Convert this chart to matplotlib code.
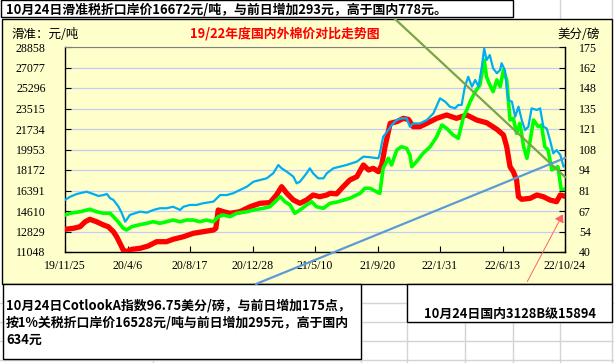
import matplotlib
matplotlib.use('Agg')
import matplotlib.pyplot as plt
from matplotlib.lines import Line2D
from matplotlib.patches import Rectangle, FancyArrowPatch
import numpy as np

plt.rcParams['font.family'] = ['Noto Sans CJK SC', 'DejaVu Sans']

# ---------------- data ----------------
x_tick_labels = ['19/11/25', '20/4/6', '20/8/17', '20/12/28', '21/5/10',
                 '21/9/20', '22/1/31', '22/6/13', '22/10/24']
x_tick_days = [0, 133, 266, 399, 532, 665, 798, 931, 1064]

left_ticks = [11048, 12829, 14610, 16391, 18172, 19953, 21734, 23515, 25296, 27077, 28858]
right_ticks = [40, 53.5, 67, 80.5, 94, 107.5, 121, 134.5, 148, 161.5, 175]
right_tick_labels = ['40', '54', '67', '81', '94', '108', '121', '135', '148', '162', '175']

# Cotlook A index (US cents/lb, right axis)
cotlook_days = [0, 11, 25, 46, 60, 71, 82, 89, 96, 103, 114, 121, 128, 131, 138, 149, 160,
                174, 188, 202, 216, 230, 245, 252, 266, 280, 294, 316, 330, 344, 358, 372,
                387, 401, 415, 429, 443, 454, 461, 472, 486, 493, 500, 514, 521, 528, 539,
                550, 557, 571, 585, 599, 621, 635, 649, 667, 670, 677, 688, 695, 706, 716,
                727, 734, 741, 755, 770, 784, 798, 809, 819, 830, 837, 844, 851, 858, 866,
                873, 880, 887, 892, 897, 904, 911, 919, 926, 929, 936, 943, 951, 958, 965,
                972, 979, 986, 993, 1004, 1011, 1018, 1025, 1032, 1039, 1046, 1054, 1061, 1064]
cotlook_vals = [74.3, 76.4, 78.2, 79.7, 78.2, 76.9, 77.5, 78.2, 75.4, 74.3, 69.8, 65.5, 60.0,
                61.1, 64.4, 65.5, 66.6, 65.9, 67.7, 68.8, 68.8, 69.8, 67.7, 69.8, 71.0, 71.0,
                72.1, 73.2, 77.5, 77.5, 78.7, 80.8, 83.0, 86.3, 87.4, 88.5, 91.8, 97.3, 95.1,
                92.9, 89.6, 85.2, 86.3, 91.8, 95.1, 91.8, 88.5, 88.5, 91.8, 95.1, 96.2, 97.3,
                99.5, 102.8, 102.4, 101.7, 105.0, 115.9, 120.3, 123.6, 126.9, 128.0, 128.0,
                122.5, 124.7, 124.7, 126.9, 131.3, 141.2, 139.0, 135.7, 134.6, 136.8, 136.8,
                148.9, 155.4, 148.9, 153.3, 148.9, 162.0, 174.1, 166.4, 169.7, 161.0, 157.7,
                159.9, 164.3, 159.9, 140.1, 139.0, 129.1, 135.7, 126.9, 120.3, 122.5, 134.6,
                133.5, 134.6, 122.5, 121.4, 113.8, 105.0, 107.1, 103.9, 96.2, 96.75]

# 1% tariff landed price (yuan/ton, left axis)
import_days = [0, 11, 32, 53, 67, 82, 96, 103, 113, 124, 131, 142, 156, 174, 188, 202, 216,
               230, 245, 259, 273, 287, 301, 316, 326, 337, 351, 365, 387, 401, 422, 436,
               447, 458, 468, 479, 489, 500, 514, 525, 535, 550, 564, 578, 606, 628, 638,
               649, 663, 670, 677, 688, 695, 706, 716, 727, 734, 738, 748, 762, 777, 791,
               802, 812, 826, 837, 848, 855, 862, 873, 883, 892, 897, 904, 911, 919, 926,
               933, 940, 947, 954, 961, 968, 976, 983, 990, 997, 1007, 1014, 1021, 1028,
               1036, 1042, 1049, 1056, 1064]
import_vals = [14262, 14410, 14549, 14758, 14549, 14410, 14410, 14115, 13680, 13107, 12959,
               13246, 13393, 13541, 13680, 13541, 13680, 13828, 13680, 13828, 13828, 13680,
               13828, 13680, 14115, 14262, 14115, 14410, 14549, 14697, 14845, 14983, 15418,
               15852, 15418, 15131, 14410, 14697, 15131, 15418, 14983, 14845, 15279, 15380,
               15714, 16147, 16582, 16582, 16285, 16147, 18319, 19189, 18606, 19909, 20196,
               20053, 19475, 18459, 18893, 19623, 20196, 21065, 22081, 21794, 21212, 20926,
               22803, 23385, 24106, 24975, 25557, 27729, 26278, 25557, 24975, 25991, 25409,
               26860, 25991, 22516, 22660, 21361, 22229, 20196, 19189, 20778, 22516, 21934,
               22081, 20196, 19909, 18172, 18319, 18459, 16435, 16528]

# Domestic 3128B (yuan/ton, left axis)
domestic_days = [0, 18, 32, 43, 53, 67, 82, 92, 103, 110, 117, 124, 131, 142, 160, 177, 195,
                 216, 230, 252, 273, 294, 316, 321, 326, 337, 351, 372, 394, 415, 436, 450,
                 461, 472, 486, 500, 514, 528, 542, 557, 564, 578, 592, 606, 621, 635, 646,
                 656, 667, 674, 681, 692, 706, 720, 731, 741, 755, 770, 791, 812, 833, 855,
                 876, 897, 919, 933, 940, 947, 954, 961, 965, 972, 990, 1004, 1018, 1032,
                 1046, 1054, 1064]
domestic_vals = [13020, 13107, 13246, 13680, 13889, 13680, 13393, 13246, 12811, 12376, 11803,
                 11222, 11074, 11283, 11369, 11569, 11943, 11943, 12151, 12376, 12671, 12811,
                 12959, 13107, 14697, 14549, 14410, 14549, 14983, 15279, 15340, 15999, 16721,
                 16147, 15566, 15279, 15566, 15999, 15852, 15999, 16147, 16100, 16721, 17303,
                 17590, 18606, 18172, 18319, 18024, 18606, 20196, 22229, 22368, 22660, 22560,
                 21934, 21934, 22229, 22660, 22950, 22660, 22950, 22516, 22281, 21708, 21212,
                 20196, 18459, 18024, 17303, 15852, 15627, 15714, 15999, 15852, 15566, 15418,
                 15999, 15894]

title_text = '19/22年度国内外棉价对比走势图'
left_unit = '滑准：元/吨'
right_unit = '美分/磅'
top_note = '10月24日滑准税折口岸价16672元/吨，与前日增加293元，高于国内778元。'
bottom_note_lines = ['10月24日CotlookA指数96.75美分/磅，与前日增加175点，',
                     '按1%关税折口岸价16528元/吨与前日增加295元，高于国内',
                     '634元']
right_note = '10月24日国内3128B级15894'

# ---------------- figure ----------------
W, H = 614, 363
fig = plt.figure(figsize=(W / 100, H / 100), dpi=100)
fig.patch.set_facecolor('white')


def fx(x):
    return x / W


def fy(y):
    return 1 - y / H


def fline(x0, y0, x1, y1, **kw):
    fig.add_artist(Line2D([fx(x0), fx(x1)], [fy(y0), fy(y1)],
                          transform=fig.transFigure, **kw))


# Excel background gridlines
gcol = '#D4D4D4'
for yy in [303, 322, 341, 360]:
    fline(0, yy, W, yy, color=gcol, lw=1, zorder=-3)
for xx in [153, 361, 407, 465, 513, 560, 612]:
    fline(xx, 284, xx, H, color=gcol, lw=1, zorder=-3)
for xx in [560, 612]:
    fline(xx, 0, xx, 19, color=gcol, lw=1, zorder=-3)

# top note box
fig.add_artist(Rectangle((fx(0.5), fy(17)), 512.5 / W, 17 / H, transform=fig.transFigure,
                         facecolor='white', edgecolor='black', lw=1, zorder=-2))
fig.text(fx(6), fy(9), top_note, fontsize=9.3, fontweight='bold', va='center', ha='left')

# chart area
fig.add_artist(Rectangle((fx(2), fy(284)), 610 / W, 265 / H, transform=fig.transFigure,
                         facecolor='#FFFFCC', edgecolor='black', lw=1, zorder=-1))

# bottom boxes
fig.add_artist(Rectangle((fx(3), fy(359)), 358 / W, 75 / H, transform=fig.transFigure,
                         facecolor='white', edgecolor='black', lw=1, zorder=-1))
for i, line in enumerate(bottom_note_lines):
    fig.text(fx(6), fy(305 + 17.5 * i), line, fontsize=9.3, fontweight='bold',
             va='center', ha='left')
fig.add_artist(Rectangle((fx(407), fy(322)), 205 / W, 38 / H, transform=fig.transFigure,
                         facecolor='white', edgecolor='black', lw=1, zorder=-1))
fig.text(fx(510), fy(314), right_note, fontsize=9.3, fontweight='bold', va='center',
         ha='center')

# axes
ax = fig.add_axes([fx(65), fy(252), 500 / W, 205 / H])
ax.set_facecolor('none')
ax.set_xlim(0, 1064)
ax.set_ylim(left_ticks[0], left_ticks[-1])
ax.set_yticks(left_ticks)
ax.set_yticklabels([str(v) for v in left_ticks])
ax.set_xticks(x_tick_days)
ax.set_xticklabels(x_tick_labels)
ax.grid(axis='y', color='#C4CCF2', lw=0.9)
ax.set_axisbelow(True)

tick_font = dict(family='Liberation Serif', size=8.6)
for lab in ax.get_xticklabels() + ax.get_yticklabels():
    lab.set_fontfamily(tick_font['family'])
    lab.set_fontsize(tick_font['size'])
ax.tick_params(axis='both', direction='in', length=4, width=0.8, color='black')
ax.tick_params(axis='y', pad=14)
ax.tick_params(axis='x', pad=6)
ax.spines['top'].set_color('#808080')
for s in ['left', 'bottom', 'right']:
    ax.spines[s].set_color('black')
    ax.spines[s].set_linewidth(1.0)

ax.plot(domestic_days, domestic_vals, color='#FF0000', lw=3.8, solid_joinstyle='round', zorder=3)
ax.plot(import_days, import_vals, color='#00FF00', lw=2.6, solid_joinstyle='round', zorder=4)

ax2 = ax.twinx()
ax2.set_ylim(right_ticks[0], right_ticks[-1])
ax2.set_yticks(right_ticks)
ax2.set_yticklabels(right_tick_labels)
for lab in ax2.get_yticklabels():
    lab.set_fontfamily(tick_font['family'])
    lab.set_fontsize(tick_font['size'])
ax2.tick_params(axis='y', direction='in', length=4, width=0.8, color='black', pad=10)
ax2.spines['top'].set_visible(False)
ax2.spines['left'].set_visible(False)
ax2.spines['bottom'].set_visible(False)
ax2.spines['right'].set_color('black')
ax2.plot(cotlook_days, cotlook_vals, color='#00AEEF', lw=1.6, solid_joinstyle='round', zorder=3)

# headings
fig.text(fx(12), fy(34), left_unit, fontsize=9, va='center', ha='left')
fig.text(fx(600), fy(34), right_unit, fontsize=9, va='center', ha='right')
fig.text(fx(285), fy(34), title_text, fontsize=9.3, fontweight='bold', color='#FF0000',
         va='center', ha='center')

# drawn shapes over the chart
fline(395, 19, 565, 177, color='#77A548', lw=1.6, zorder=5)
fline(256, 284, 565, 158, color='#5B9BD5', lw=1.6, zorder=5)
fig.add_artist(FancyArrowPatch((fx(526), fy(284)), (fx(564), fy(212)),
                               transform=fig.transFigure, arrowstyle='-|>,head_length=3,head_width=2',
                               color='#FF6060', lw=0.7, zorder=5, mutation_scale=1.5))

fig.savefig('out.png', dpi=100, facecolor='white')
